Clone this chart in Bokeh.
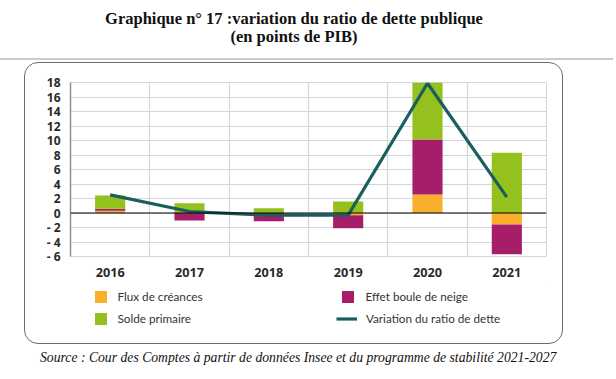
from bokeh.plotting import figure
from bokeh.models import (ColumnDataSource, FixedTicker, Legend, LegendItem, Span, Div, Spacer)
from bokeh.layouts import column, row
from bokeh.embed import file_html
from bokeh.resources import INLINE

years = ["2016", "2017", "2018", "2019", "2020", "2021"]
flux = [0.3, 0.0, 0.0, -0.3, 2.55, -1.6]
boule = [0.3, -1.05, -1.15, -1.8, 7.6, -4.1]
solde = [1.8, 1.35, 0.65, 1.6, 7.85, 8.3]
variation = [2.5, 0.2, -0.3, -0.3, 17.9, 2.2]
yticks = [-6, -4, -2, 0, 2, 4, 6, 8, 10, 12, 14, 16, 18]

title_l1 = "Graphique n° 17 :variation du ratio de dette publique"
title_l2 = "(en points de PIB)"
source_txt = "Source : Cour des Comptes à partir de données Insee et du programme de stabilité 2021-2027"
legend_labels = ["Flux de créances", "Effet boule de neige", "Solde primaire", "Variation du ratio de dette"]

ORANGE = "#F9AE2E"
MAGENTA = "#A61E6A"
GREEN = "#95C11F"
TEAL = "#1B5E5E"

xs = [i + 0.5 for i in range(len(years))]

series = [flux, boule, solde]
pos = [0.0] * len(years)
neg = [0.0] * len(years)
stacks = []
for s in series:
    bot, top = [], []
    for i, v in enumerate(s):
        if v >= 0:
            bot.append(pos[i]); top.append(pos[i] + v); pos[i] += v
        else:
            bot.append(neg[i] + v); top.append(neg[i]); neg[i] += v
    stacks.append((bot, top))

# ---------------- chart figure ----------------
p = figure(width=537, height=222, x_range=(0, 6), y_range=(-6, 18),
           output_backend="svg", toolbar_location=None,
           min_border_left=45, min_border_right=16, min_border_top=19, min_border_bottom=29)
p.background_fill_color = None
p.border_fill_color = None
p.outline_line_color = "#D3D6DD"

GRID = "#D3D6DD"
p.xgrid.ticker = FixedTicker(ticks=[0, 1, 2, 3, 4, 5, 6])
p.xgrid.grid_line_color = GRID
p.ygrid.ticker = FixedTicker(ticks=yticks)
p.ygrid.grid_line_color = GRID
p.xgrid.grid_line_width = 1.2
p.ygrid.grid_line_width = 1.2

p.xaxis.ticker = FixedTicker(ticks=xs)
p.xaxis.major_label_overrides = {x: y for x, y in zip(xs, years)}
p.xaxis.axis_line_color = None
p.xaxis.major_tick_line_color = None
p.xaxis.minor_tick_line_color = None
p.xaxis.major_label_standoff = 5
p.xaxis.major_label_text_font = "Open Sans"
p.xaxis.major_label_text_font_style = "bold"
p.xaxis.major_label_text_font_size = "12.7px"
p.xaxis.major_label_text_color = "#2A2A2A"

p.yaxis.ticker = FixedTicker(ticks=yticks)
p.yaxis.major_label_overrides = {t: (str(t) if t >= 0 else "- " + str(-t)) for t in yticks}
p.yaxis.axis_line_color = "#8A8F99"
p.yaxis.axis_line_width = 1.5
p.yaxis.major_tick_line_color = None
p.yaxis.minor_tick_line_color = None
p.yaxis.major_label_standoff = 4
p.yaxis.major_label_text_font = "Open Sans"
p.yaxis.major_label_text_font_style = "bold"
p.yaxis.major_label_text_font_size = "12px"
p.yaxis.major_label_text_color = "#2A2A2A"

colors = [ORANGE, MAGENTA, GREEN]
for (bot, top), c in zip(stacks, colors):
    src = ColumnDataSource(dict(x=xs, bottom=bot, top=top))
    p.vbar(x="x", bottom="bottom", top="top", width=0.38, source=src,
           fill_color=c, line_color=None)

p.add_layout(Span(location=0, dimension="width", line_color="black", line_width=1.2))
p.line(xs, variation, line_color=TEAL, line_width=3.2)

# ---------------- legend figure ----------------
q = figure(width=537, height=58, x_range=(0, 1), y_range=(0, 1),
           output_backend="svg", toolbar_location=None,
           x_axis_type=None, y_axis_type=None, min_border=0)
q.grid.visible = False
q.outline_line_color = None
q.background_fill_color = None
q.border_fill_color = None

# proxy renderers for the legend, placed outside the visible range
proxy_o = q.vbar(x=[5], top=[5], bottom=[4], width=0.1, fill_color=ORANGE, line_color=None)
proxy_m = q.vbar(x=[5], top=[5], bottom=[4], width=0.1, fill_color=MAGENTA, line_color=None)
proxy_g = q.vbar(x=[5], top=[5], bottom=[4], width=0.1, fill_color=GREEN, line_color=None)
proxy_l = q.line(x=[5, 6], y=[5, 5], line_color=TEAL, line_width=3.2)

def mk_legend(label, r, loc, gw, standoff):
    lg = Legend(items=[LegendItem(label=label, renderers=[r])],
                location=loc, glyph_width=gw, glyph_height=15,
                label_standoff=standoff, padding=0, margin=0, spacing=0,
                border_line_color=None, background_fill_alpha=0,
                label_text_font="Lato", label_text_font_size="11.7px",
                label_text_color="#333333", label_height=15)
    q.add_layout(lg, "center")

mk_legend(legend_labels[0], proxy_o, (22.5, 39.5), 15, 10)
mk_legend(legend_labels[2], proxy_g, (22.5, 17.5), 15, 10)
mk_legend(legend_labels[1], proxy_m, (269.5, 39.5), 15, 11)
mk_legend(legend_labels[3], proxy_l, (266, 17.5), 21, 9)

box = column(p, q, spacing=0,
             styles={"border": "1.5px solid #6A6D75", "border-radius": "14px", "background": "white"})

title_div = Div(width=600, height=52, text=(
    '<div style="position:relative;width:600px;height:52px;">'
    '<div style="position:absolute;left:0;top:5px;width:578px;text-align:center;'
    "font-family:'Liberation Serif';font-weight:bold;font-size:16.5px;line-height:18px;color:#111;\">"
    + title_l1 + '<br>' + title_l2 + '</div>'
    '<div style="position:absolute;left:-8px;top:53px;width:616px;height:2px;background:#C8CAD2;"></div>'
    '</div>'))

source_div = Div(width=600, height=24, text=(
    '<div style="padding-left:35px;padding-top:2px;'
    "font-family:'Liberation Serif';font-style:italic;font-size:13.7px;line-height:14px;color:#111;white-space:nowrap;\">"
    + source_txt + '</div>'))

layout = column(title_div, row(Spacer(width=24), box, spacing=0), source_div, spacing=0)

open("out.html", "w").write(file_html(layout, INLINE))
